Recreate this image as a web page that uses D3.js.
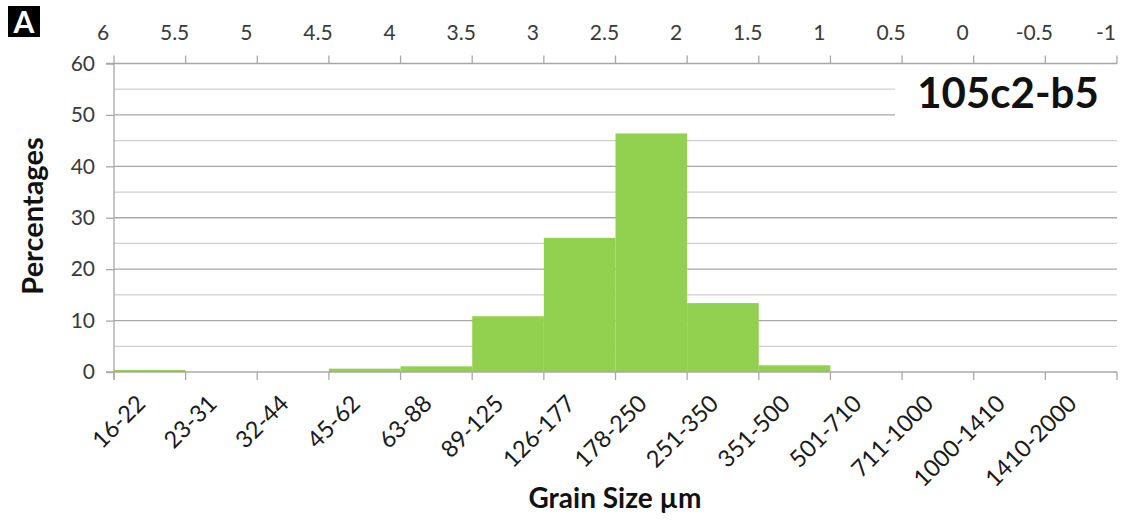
<!DOCTYPE html>
<html>
<head>
<meta charset="utf-8">
<script src="https://cdn.jsdelivr.net/npm/d3@7"></script>
<style>
  html, body { margin: 0; padding: 0; background: #fff; }
  svg { display: block; font-family: Lato, "Open Sans", sans-serif; }
</style>
</head>
<body>
<svg id="chart" width="1122" height="521"></svg>
<script>
// Grain size classes (µm) and weight percentages per class
const sizeClasses = ["16-22", "23-31", "32-44", "45-62", "63-88", "89-125", "126-177",
  "178-250", "251-350", "351-500", "501-710", "711-1000", "1000-1410", "1410-2000"];
const percentages = [0.4, 0, 0, 0.65, 1.1, 10.85, 26.1, 46.4, 13.4, 1.3, 0, 0, 0, 0];
// Phi scale labels along the top edge (class boundaries)
const phiTicks = [6, 5.5, 5, 4.5, 4, 3.5, 3, 2.5, 2, 1.5, 1, 0.5, 0, -0.5, -1];
const yTicks = [0, 10, 20, 30, 40, 50, 60];
const sampleName = "105c2-b5";

(function draw() {
  const svg = d3.select("#chart");
  const margin = { left: 114, right: 5, top: 63.5, bottom: 149 };
  const W = 1122, H = 521;
  const x0 = margin.left, x1 = W - margin.right;
  const yBase = H - margin.bottom;

  const x = d3.scaleBand().domain(sizeClasses).range([x0, x1]).padding(0);
  const phi = d3.scaleLinear().domain([6, -1]).range([x0, x1]);
  const y = d3.scaleLinear().domain([0, 60]).range([yBase, margin.top]);

  // Horizontal gridlines: major every 10, minor every 5
  const minor = d3.range(5, 60, 10);
  svg.append("g").selectAll("line").data(minor).join("line")
    .attr("x1", x0).attr("x2", d => d >= 50 ? 895 : x1)
    .attr("y1", d => y(d)).attr("y2", d => y(d))
    .attr("stroke", "#cfcfcf").attr("stroke-width", 1.3);
  svg.append("g").selectAll("line").data(yTicks.filter(d => d > 0 && d < 60)).join("line")
    .attr("x1", x0).attr("x2", d => d === 50 ? 895 : x1)
    .attr("y1", d => y(d)).attr("y2", d => y(d))
    .attr("stroke", "#a8a8a8").attr("stroke-width", 1.3);

  // Histogram bars
  svg.append("g").selectAll("rect").data(sizeClasses).join("rect")
    .attr("x", d => x(d))
    .attr("width", x.bandwidth())
    .attr("y", (d, i) => y(percentages[i]))
    .attr("height", (d, i) => yBase - y(percentages[i]))
    .attr("fill", "#92d050");

  // Left axis
  const yAxis = svg.append("g").attr("transform", `translate(${x0},0)`)
    .call(d3.axisLeft(y).tickValues(yTicks).tickSize(8).tickPadding(11));
  yAxis.select(".domain").attr("stroke", "#a8a8a8").attr("stroke-width", 1.3)
    .attr("d", `M0,${y(60)}V${yBase + 8}`);
  yAxis.selectAll(".tick line").attr("stroke", "#a8a8a8").attr("stroke-width", 1.3);
  yAxis.selectAll(".tick text").attr("fill", "#3a3a3a").style("font-size", "21px")
    .style("font-family", "Lato, sans-serif");

  // Bottom axis with ticks at class boundaries
  const bottomAxis = svg.append("g").attr("transform", `translate(0,${yBase})`);
  bottomAxis.append("line").attr("x1", x0 - 8).attr("x2", x1)
    .attr("stroke", "#a8a8a8").attr("stroke-width", 1.3);
  bottomAxis.selectAll("line.tk").data(phiTicks).join("line").attr("class", "tk")
    .attr("x1", d => phi(d)).attr("x2", d => phi(d)).attr("y1", 0).attr("y2", 8)
    .attr("stroke", "#a8a8a8").attr("stroke-width", 1.3);
  bottomAxis.selectAll("text").data(sizeClasses).join("text")
    .attr("transform", d => `translate(${x(d) + x.bandwidth() / 2 - 3},${33}) rotate(-45)`)
    .attr("text-anchor", "end")
    .attr("fill", "#1a1a1a")
    .style("font-size", "23.5px")
    .text(d => d);

  // Top phi axis
  const topAxis = svg.append("g").attr("transform", `translate(0,${y(60)})`);
  topAxis.append("line").attr("x1", x0 - 8).attr("x2", x1)
    .attr("stroke", "#a8a8a8").attr("stroke-width", 1.3);
  topAxis.selectAll("line.tk").data(phiTicks).join("line").attr("class", "tk")
    .attr("x1", d => phi(d)).attr("x2", d => phi(d)).attr("y1", 0).attr("y2", -8)
    .attr("stroke", "#a8a8a8").attr("stroke-width", 1.3);
  topAxis.selectAll("text").data(phiTicks).join("text")
    .attr("x", d => phi(d) - 11)
    .attr("y", -23.5)
    .attr("text-anchor", "middle")
    .attr("fill", "#3a3a3a")
    .style("font-size", "21px")
    .text(d => d);

  // Sample name
  svg.append("text").attr("x", 1008).attr("y", 108)
    .attr("text-anchor", "middle").attr("font-weight", "bold")
    .attr("fill", "#111").style("font-size", "42px").text(sampleName);

  // Axis titles
  svg.append("text").attr("x", 615).attr("y", 508)
    .attr("text-anchor", "middle").attr("font-weight", "bold")
    .attr("fill", "#111").style("font-size", "28px").text("Grain Size µm");
  svg.append("text").attr("transform", "translate(43,216) rotate(-90)")
    .attr("text-anchor", "middle").attr("font-weight", "bold")
    .attr("fill", "#111").style("font-size", "29px").text("Percentages");

  // Panel letter
  svg.append("rect").attr("x", 8).attr("y", 6).attr("width", 32).attr("height", 31).attr("fill", "#000");
  svg.append("text").attr("x", 24).attr("y", 33).attr("text-anchor", "middle")
    .attr("font-weight", "bold").attr("fill", "#fff").style("font-size", "30px").text("A");
})();
</script>
</body>
</html>
